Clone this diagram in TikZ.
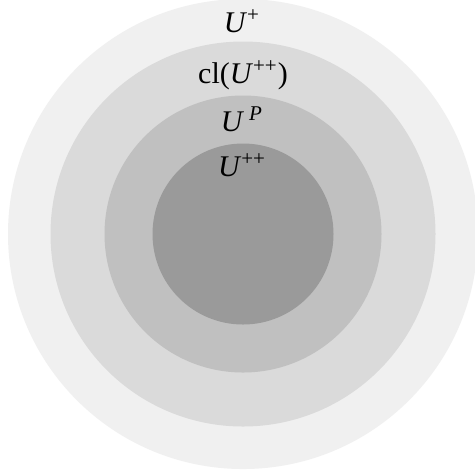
\documentclass[tikz,border=0pt]{standalone}
\usepackage{fontspec}
\setmainfont{Liberation Serif}
\definecolor{ringa}{HTML}{F0F0F0}
\definecolor{ringb}{HTML}{DADADA}
\definecolor{ringc}{HTML}{C0C0C0}
\definecolor{ringd}{HTML}{9A9A9A}
\newcommand{\setU}{\textit{U}}
\begin{document}
\begin{tikzpicture}[
    x=0.5pt, y=-0.5pt,
    font=\fontsize{15}{18}\selectfont,
    lbl/.style={anchor=base, inner sep=0pt}
]
    % Frame
    \useasboundingbox (0,0) rectangle (475,473);
    \clip (0,0) rectangle (475,473);
    \fill[white] (0,0) rectangle (475,473);

    % Nested sets
    \coordinate (ctr) at (243,234);
    \fill[ringa] (ctr) circle[radius=235];
    \fill[ringb] (ctr) circle[radius=192.5];
    \fill[ringc] (ctr) circle[radius=138.5];
    \fill[ringd] (ctr) circle[radius=90.5];

    % Labels
    \node[lbl] (uplus) at (242,32) {\setU\textsuperscript{+}};
    \node[lbl] (clupp) at (243,83) {cl(\setU\textsuperscript{++})};
    \node[lbl] (up) at (242,131) {\setU\,\textsuperscript{\textit{P}}};
    \node[lbl] (upp) at (242,176) {\setU\textsuperscript{++}};

\end{tikzpicture}
\end{document}
